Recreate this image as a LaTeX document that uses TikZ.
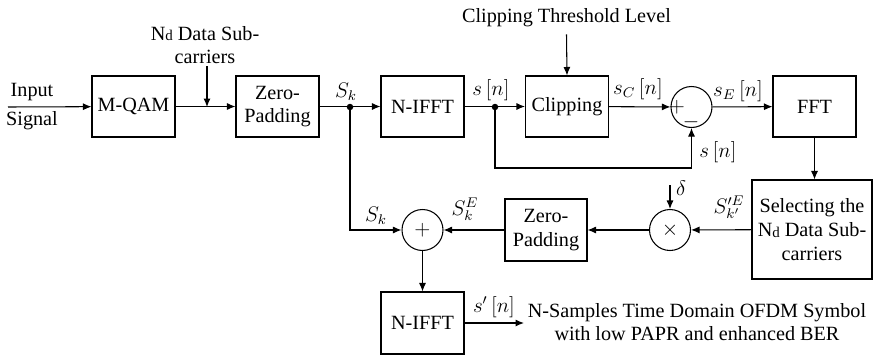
\documentclass[tikz,border=0pt]{standalone}
\usepackage{fontspec}
\setmainfont{Liberation Serif}
\usetikzlibrary{arrows.meta}
\newcommand{\Nd}{N\raisebox{-0.5pt}{\fontsize{8.5}{8.5}\selectfont d}}
\begin{document}
\begin{tikzpicture}[x=0.02cm,y=-0.02cm,>={Latex[length=1.7mm,width=1.4mm]},line width=0.6pt,
                font=\fontsize{11.5}{13.5}\selectfont]
              \tikzstyle{block}=[draw, minimum width=1.66cm, minimum height=1.22cm, align=center, inner sep=1pt]
              \tikzstyle{sumnode}=[draw, circle, minimum size=0.82cm, inner sep=0pt]
              \tikzstyle{lbl}=[inner sep=1pt]
              \tikzstyle{dot}=[circle, fill, inner sep=0pt, minimum size=1.3mm]

              \useasboundingbox (0,0) rectangle (873,356);

              \node[block] (qam) at (133.5,106.5) {M-QAM};
              \node[block] (zp1) at (277.5,106.5) {Zero-\\Padding};
              \node[block] (ifft1) at (422.5,106.5) {N-IFFT};
              \node[block] (clip) at (567,106.5) {Clipping};
              \node[sumnode] (sum) at (691.5,107) {};
              \node[block] (fft) at (814.5,106.5) {FFT};
              \node[block, minimum width=2.4cm, minimum height=1.98cm] (sel) at (812,229.5)
                {Selecting the\\\Nd{} Data Sub-\\carriers};
              \node[sumnode] (mul) at (670,230) {$\times$};
              \node[block, minimum width=1.64cm, minimum height=1.24cm] (zp2) at (546,230) {Zero-\\Padding};
              \node[sumnode] (add) at (422.5,230) {$+$};
              \node[block, minimum height=1.24cm] (ifft2) at (422.5,323) {N-IFFT};

              \node[lbl, align=center] (intxt) at (32,107) {Input\\[3pt]Signal};
              \node[lbl, align=center] (ndtxt) at (205,45) {\Nd{} Data Sub-\\carriers};
              \node[lbl] (thr) at (566.5,18) {Clipping Threshold Level};
              \node[lbl, align=center] (outtxt) at (697,322)
                {N-Samples Time Domain OFDM Symbol\\with low PAPR and enhanced BER};

              \coordinate (in) at (8,107);
              \coordinate (ndin) at (207,107);
              \coordinate (fb) at (495,168);
              \coordinate (din) at (670,185);
              \coordinate (out) at (524,323);
              \node[dot] (skdot) at (350,107) {};
              \node[dot] (sndot) at (495,107) {};

              \draw[->] (in) -- (qam);
              \draw[->] (qam) -- (zp1);
              \draw[->] (ndtxt.south -| ndin) -- (ndin);
              \draw[->] (zp1) -- (ifft1);
              \draw[->] (ifft1) -- (clip);
              \draw[->] (thr.south) ++(0,5) -- (clip.north);
              \draw[->] (clip) -- (sum);
              \draw[->] (sum) -- (fft);
              \draw[->] (sndot.center) -- (fb) -| (sum.south);
              \draw[->] (fft.south) -- (fft.south |- sel.north);
              \draw[->] (sel) -- (mul);
              \draw[->] (din) -- (mul.north);
              \draw[->] (mul) -- (zp2);
              \draw[->] (zp2) -- (add);
              \draw[->] (skdot.center) |- (add.west);
              \draw[->] (add) -- (ifft2);
              \draw[->] (ifft2) -- (out);

              \node[lbl] (sk1) at (346,92) {$S_{k}$};
              \node[lbl] (sn1) at (491,90) {$s\left[n\right]$};
              \node[lbl] (scn) at (638,89) {$s_{C}\left[n\right]$};
              \node[lbl] (sen) at (738,91) {$s_{E}\left[n\right]$};
              \node[lbl] (sn2) at (718,152) {$s\left[n\right]$};
              \node[lbl] (plus) at (677,107) {$+$};
              \node[lbl] (minus) at (691,122) {$-$};
              \node[lbl] (sk2) at (376,216) {$S_{k}$};
              \node[lbl] (ske) at (465,209) {$S_{k}^{E}$};
              \node[lbl] (skpe) at (729,207) {$S'^{E}_{k'}$};
              \node[lbl] (dlt) at (681,188) {$\delta$};
              \node[lbl] (snp) at (494,307) {$s'\left[n\right]$};
            \end{tikzpicture}
\end{document}
